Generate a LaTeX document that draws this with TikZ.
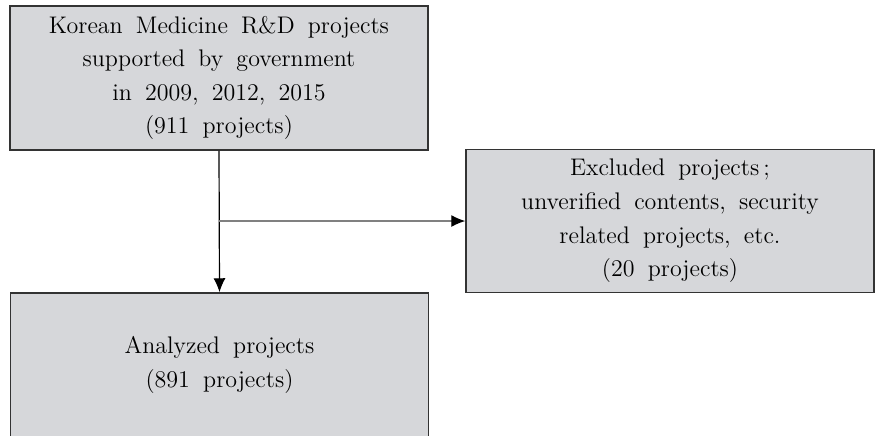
\documentclass[tikz,border=0pt]{standalone}
\usepackage{tikz}
\usetikzlibrary{positioning,arrows.meta}
\definecolor{boxgray}{HTML}{D6D7DA}
\definecolor{edgegray}{HTML}{333333}
\newcommand{\boxfont}{\fontsize{12}{16.8}\selectfont\spaceskip=0.55em plus 0.1em\relax}
\tikzset{
  block/.style={draw=edgegray, fill=boxgray, rectangle, line width=0.75pt, align=center,
    minimum width=209pt, minimum height=72pt, inner sep=0pt, font=\boxfont}
}
\begin{document}
\begin{tikzpicture}[>={Latex[length=7pt,width=6pt]}, x=0.5pt, y=-0.5pt]
  \clip (0,0) rectangle (876,435);
  % Boxes
  \node[block] (total) at (219,78) {Korean Medicine R\&D projects\\supported by government\\in 2009, 2012, 2015\\(911 projects)};
  \node[block, minimum width=204pt, minimum height=71.5pt] (excl) at (670,221) {Excluded projects\,;\\unverified contents, security\\related projects, etc.\\(20 projects)};
  \node[block] (anal) at (219.5,365) {Analyzed projects\\(891 projects)};
  % Arrows
  \coordinate (split) at (total.south |- excl.west);
  \draw[->, line width=0.6pt] (total.south) -- (anal.north);
  \draw[-{Latex[length=7pt,width=6pt,color=black]}, line width=0.6pt, draw=gray] (split) -- (excl.west);
\end{tikzpicture}
\end{document}
